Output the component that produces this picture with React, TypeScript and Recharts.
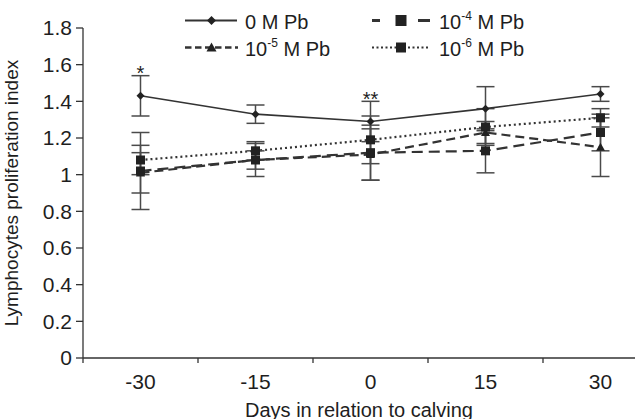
import React from 'react';
import { LineChart, Line, XAxis, YAxis, ErrorBar, LabelList } from 'recharts';

// days relative to calving (category centres)
const days = [-30, -15, 0, 15, 30];

// lymphocyte proliferation index, mean and error per Pb concentration
const pb0 = [1.43, 1.33, 1.29, 1.36, 1.44];
const pb0Err = [0.11, 0.05, 0.11, 0.12, 0.04];
const pb4 = [1.02, 1.08, 1.12, 1.13, 1.23];
const pb4Err = [0.21, 0.09, 0.15, 0.12, 0.1];
const pb5 = [1.01, 1.08, 1.11, 1.23, 1.15];
const pb5Err = [0.11, 0.05, 0.14, 0.06, 0.16];
const pb6 = [1.08, 1.13, 1.19, 1.26, 1.31];
const pb6Err = [0.08, 0.05, 0.13, 0.1, 0.05];
const signif = ['*', '', '**', '', ''];

const yTicks = [0, 0.2, 0.4, 0.6, 0.8, 1, 1.2, 1.4, 1.6, 1.8];
// tick marks sit on the boundaries between the day groups
const xBounds = [-37.5, -22.5, -7.5, 7.5, 22.5];

const rows = days.map((day, i) => ({
  day,
  pb0: pb0[i],
  pb0Err: pb0Err[i],
  pb4: pb4[i],
  pb4Err: pb4Err[i],
  pb5: pb5[i],
  pb5Err: pb5Err[i],
  pb6: pb6[i],
  pb6Err: pb6Err[i],
  sigTop: signif[i] ? pb0[i] + pb0Err[i] : null,
  sig: signif[i],
}));

const INK = '#222222';
const LINE = '#333333';
const ERR = '#4a4a4a';
const TEXT = '#1e1e1e';
const FONT = '"Liberation Sans", Arial, Helvetica, sans-serif';

function marker(shape: string, cx: number, cy: number, s: number) {
  if (shape === 'diamond') {
    return <path d={`M${cx} ${cy - s}L${cx + s} ${cy}L${cx} ${cy + s}L${cx - s} ${cy}Z`} fill={INK} />;
  }
  if (shape === 'triangle') {
    return <path d={`M${cx} ${cy - s}L${cx + s} ${cy + s * 0.8}L${cx - s} ${cy + s * 0.8}Z`} fill={INK} />;
  }
  return <rect x={cx - s} y={cy - s} width={2 * s} height={2 * s} fill={INK} />;
}

const dotFor = (shape: string, s: number) => (props: any) => {
  const k = `${shape}-${props.index}`;
  if (props.cx == null || props.cy == null) return <g key={k} />;
  return <g key={k}>{marker(shape, props.cx, props.cy, s)}</g>;
};

const XTick = (props: any) => {
  const { x, y, payload } = props;
  const v = payload.value;
  if (xBounds.includes(v)) {
    return <line x1={x} x2={x} y1={y} y2={y + 5} stroke={LINE} strokeWidth={1.3} />;
  }
  return (
    <text x={x} y={y + 31} textAnchor="middle" fontSize={21} fill={TEXT} fontFamily={FONT}>
      {v}
    </text>
  );
};

const Legend = () => {
  const txt = (x: number, y: number, base: string, sup?: string) => (
    <text x={x} y={y} fontSize={20} fill={TEXT} fontFamily={FONT}>
      {base}
      {sup ? (
        <>
          <tspan fontSize={12} dy={-9}>{sup}</tspan>
          <tspan dy={9}> M Pb</tspan>
        </>
      ) : null}
    </text>
  );
  return (
    <svg width={635} height={60} style={{ position: 'absolute', left: 0, top: 0 }}>
      {/* 0 M Pb */}
      <line x1={185} x2={237} y1={20.5} y2={20.5} stroke={LINE} strokeWidth={1.8} />
      {marker('diamond', 211.5, 20.5, 4.5)}
      {txt(245, 28.5, '0 M Pb')}
      {/* 10^-4 */}
      <line x1={372} x2={380} y1={20.5} y2={20.5} stroke={LINE} strokeWidth={3} />
      <line x1={418} x2={430} y1={20.5} y2={20.5} stroke={LINE} strokeWidth={3} />
      {marker('square', 401, 20.5, 5.5)}
      {txt(439, 28.5, '10', '-4')}
      {/* 10^-5 */}
      <line x1={185} x2={238} y1={47.5} y2={47.5} stroke={LINE} strokeWidth={2.5} strokeDasharray="6.5 3.5" />
      {marker('triangle', 211.5, 47.5, 5)}
      {txt(245, 55.5, '10', '-5')}
      {/* 10^-6 */}
      <line x1={372} x2={429} y1={47.5} y2={47.5} stroke={LINE} strokeWidth={2} strokeDasharray="2 2.5" />
      {marker('square', 401, 47.5, 5)}
      {txt(439, 55.5, '10', '-6')}
    </svg>
  );
};

export default function App() {
  return (
    <div
      style={{
        position: 'absolute',
        left: 0,
        top: 0,
        width: 635,
        height: 419,
        background: '#ffffff',
        fontFamily: FONT,
      }}
    >
      <LineChart width={635} height={419} data={rows} margin={{ top: 28, right: 0, bottom: 0, left: 0 }}>
        <XAxis
          type="number"
          dataKey="day"
          domain={[-37.5, 34.5]}
          ticks={[-37.5, -30, -22.5, -15, -7.5, 0, 7.5, 15, 22.5, 30]}
          interval={0}
          tickLine={false}
          tickSize={0}
          tickMargin={0}
          tick={<XTick />}
          height={61}
          axisLine={{ stroke: LINE, strokeWidth: 1.3 }}
          label={{
            content: (p: any) => (
              <text
                x={p.viewBox.x + p.viewBox.width / 2}
                y={p.viewBox.y + 58.5}
                textAnchor="middle"
                fontSize={20}
                fill={TEXT}
                fontFamily={FONT}
              >
                Days in relation to calving
              </text>
            ),
          }}
        />
        <YAxis
          type="number"
          domain={[0, 1.8]}
          ticks={yTicks}
          interval={0}
          width={83}
          tickSize={7}
          tickMargin={4}
          tickFormatter={(v: number) => String(parseFloat(v.toFixed(1)))}
          tick={{ fontSize: 21, fill: TEXT, fontFamily: FONT }}
          tickLine={{ stroke: LINE, strokeWidth: 1.3 }}
          axisLine={{ stroke: LINE, strokeWidth: 1.3 }}
          label={{
            content: (p: any) => (
              <text
                transform={`translate(${p.viewBox.x + 18},${p.viewBox.y + p.viewBox.height / 2}) rotate(-90)`}
                textAnchor="middle"
                fontSize={19}
                fill={TEXT}
                fontFamily={FONT}
              >
                Lymphocytes proliferation index
              </text>
            ),
          }}
        />
        <Line
          type="linear"
          dataKey="pb6"
          stroke={LINE}
          strokeWidth={2.2}
          strokeDasharray="2 3"
          dot={dotFor('square', 4.5)}
          activeDot={false}
          isAnimationActive={false}
        >
          <ErrorBar dataKey="pb6Err" direction="y" width={9} stroke={ERR} strokeWidth={1.5} />
        </Line>
        <Line
          type="linear"
          dataKey="pb5"
          stroke={LINE}
          strokeWidth={2.2}
          strokeDasharray="9 5"
          dot={dotFor('triangle', 4.5)}
          activeDot={false}
          isAnimationActive={false}
        >
          <ErrorBar dataKey="pb5Err" direction="y" width={9} stroke={ERR} strokeWidth={1.5} />
        </Line>
        <Line
          type="linear"
          dataKey="pb4"
          stroke={LINE}
          strokeWidth={2.2}
          strokeDasharray="11 6"
          dot={dotFor('square', 4.5)}
          activeDot={false}
          isAnimationActive={false}
        >
          <ErrorBar dataKey="pb4Err" direction="y" width={9} stroke={ERR} strokeWidth={1.5} />
        </Line>
        <Line
          type="linear"
          dataKey="pb0"
          stroke={LINE}
          strokeWidth={1.6}
          dot={dotFor('diamond', 4)}
          activeDot={false}
          isAnimationActive={false}
        >
          <ErrorBar dataKey="pb0Err" direction="y" width={9} stroke={ERR} strokeWidth={1.5} />
        </Line>
        <Line
          type="linear"
          dataKey="sigTop"
          stroke="none"
          dot={false}
          activeDot={false}
          legendType="none"
          isAnimationActive={false}
        >
          <LabelList
            dataKey="sig"
            content={(p: any) =>
              p.value ? (
                <text x={p.x} y={p.y + 4.5} textAnchor="middle" fontSize={20} fill={TEXT} fontFamily={FONT}>
                  {p.value}
                </text>
              ) : null
            }
          />
        </Line>
      </LineChart>
      <Legend />
    </div>
  );
}
